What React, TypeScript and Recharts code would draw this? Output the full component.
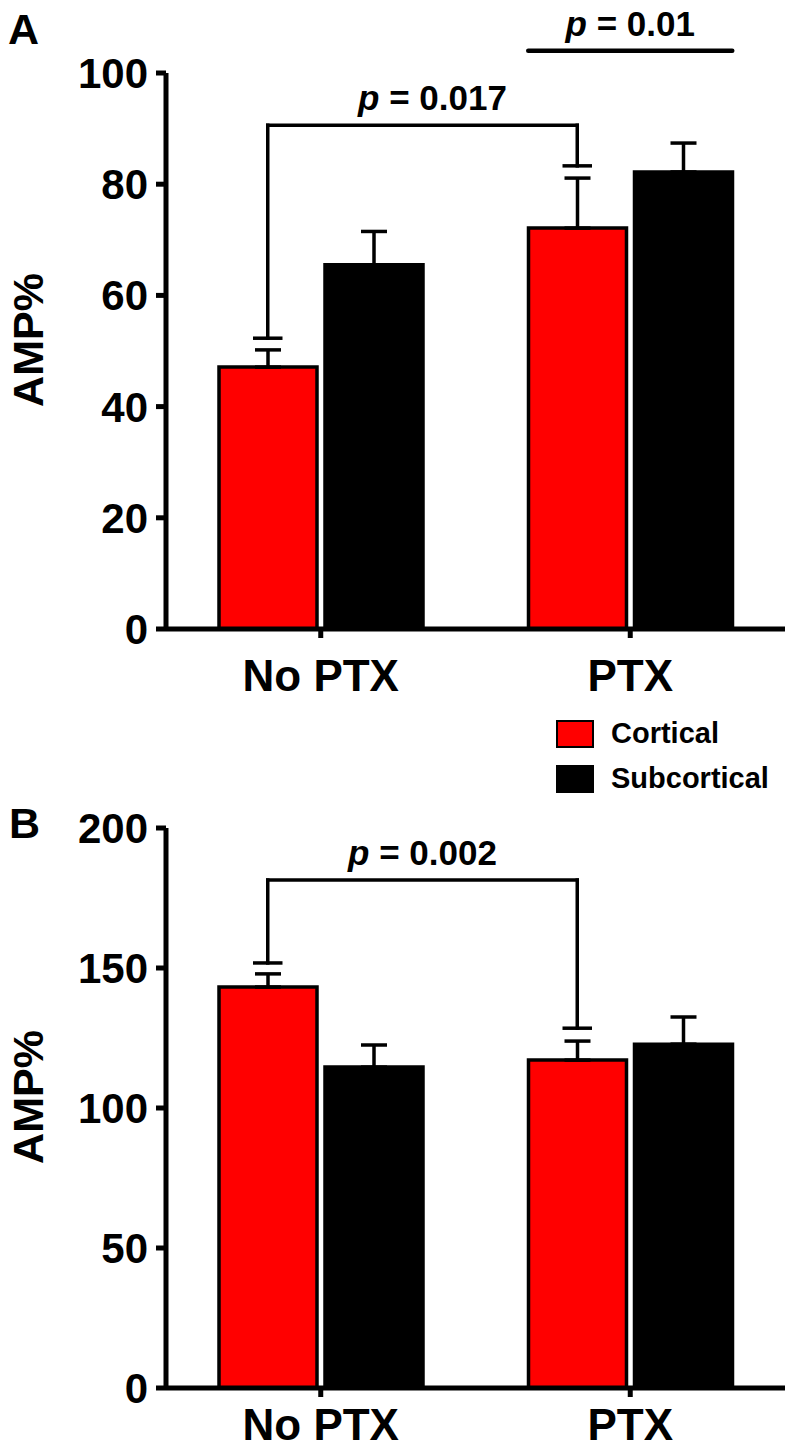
import React from "react";
import { Bar, BarChart, ErrorBar, Legend, ReferenceLine, XAxis, YAxis } from "recharts";

const categories = ["No PTX", "PTX"];

// panel A
const corticalA = [47.1, 72.1];
const corticalErrA = [3.1, 9.0];
const subcorticalA = [65.5, 82.2];
const subcorticalErrA = [6.0, 5.2];
const ticksA = [0, 20, 40, 60, 80, 100];

// panel B
const corticalB = [143.2, 117.1];
const corticalErrB = [4.7, 6.8];
const subcorticalB = [114.6, 122.8];
const subcorticalErrB = [7.9, 9.7];
const ticksB = [0, 50, 100, 150, 200];

// significance marks (y in data units)
const bracketA = { legFrom: 52.3, legTo: 83.3, top: 90.6, p: "0.017" };
const lineA = { y: 104, p: "0.01" };
const bracketB = { legFrom: 151.8, legTo: 128.5, top: 181.4, p: "0.002" };

const FONT = "'Liberation Sans', Arial, Helvetica, sans-serif";
const RED = "#ff0000";
const W = 787;
const LEFT = 166;
const RIGHT = 2;
const BAR_SIZE = 98;
const BAR_GAP = 8;
const BAND = (W - LEFT - RIGHT) / categories.length;
// offsets in band units, for the hidden numeric axis
const CORT_MID = 0.5 - (BAR_SIZE + BAR_GAP) / 2 / BAND;
const PAIR_HALF = (BAR_GAP / 2 + BAR_SIZE) / BAND;
const CAP = 13 / BAND;
const LW = 3.5;

const buildRows = (cort: number[], cortErr: number[], sub: number[], subErr: number[]) =>
  categories.map((name, i) => ({
    name,
    pos: i + 0.5,
    cortical: cort[i],
    subcortical: sub[i],
    corticalErr: [0, cortErr[i]],
    subcorticalErr: [0, subErr[i]],
  }));

const dataA = buildRows(corticalA, corticalErrA, subcorticalA, subcorticalErrA);
const dataB = buildRows(corticalB, corticalErrB, subcorticalB, subcorticalErrB);

function PLabel(props: any) {
  const vb = props.viewBox || {};
  const cx = (vb.x || 0) + (vb.width || 0) / 2 + (props.shift || 0);
  return (
    <text x={cx} y={(vb.y || 0) - 15} textAnchor="middle" fontFamily={FONT} fontWeight="bold" fontSize={35} fill="#000">
      <tspan fontStyle="italic">p</tspan>
      <tspan>{" = " + props.p}</tspan>
    </text>
  );
}

function YLabel(props: any) {
  const vb = props.viewBox || { y: 0, height: 0 };
  const cy = vb.y + vb.height / 2 - 11;
  return (
    <text transform={`translate(43, ${cy}) rotate(-90)`} textAnchor="middle" fontFamily={FONT} fontWeight="bold" fontSize={43} fill="#000">
      AMP%
    </text>
  );
}

function bracketLines(b: { legFrom: number; legTo: number; top: number; p: string }, key: string, shift: number) {
  const xl = CORT_MID;
  const xr = 1 + CORT_MID;
  const segs = [
    [{ x: xl - CAP, y: b.legFrom }, { x: xl + CAP, y: b.legFrom }],
    [{ x: xl, y: b.legFrom }, { x: xl, y: b.top }],
    [{ x: xl, y: b.top }, { x: xr, y: b.top }],
    [{ x: xr, y: b.top }, { x: xr, y: b.legTo }],
    [{ x: xr - CAP, y: b.legTo }, { x: xr + CAP, y: b.legTo }],
  ];
  return segs.map((s, i) => (
    <ReferenceLine
      key={key + i}
      xAxisId="pos"
      segment={s}
      stroke="#000"
      strokeWidth={LW}
      strokeLinecap="square"
      ifOverflow="visible"
      label={i === 2 ? (p: any) => <PLabel {...p} p={b.p} shift={shift} /> : undefined}
    />
  ));
}

function LegendBox() {
  const items = [
    { label: "Cortical", color: RED },
    { label: "Subcortical", color: "#000" },
  ];
  return (
    <div>
      {items.map((it) => (
        <div key={it.label} style={{ display: "flex", alignItems: "center", height: 45 }}>
          <span style={{ display: "inline-block", width: 34, height: 24, background: it.color, border: "2px solid #000" }} />
          <span style={{ marginLeft: 17, fontFamily: FONT, fontWeight: "bold", fontSize: 29, color: "#000" }}>{it.label}</span>
        </div>
      ))}
    </div>
  );
}

const axisStroke = { stroke: "#000", strokeWidth: 5 };

function Panel(props: {
  data: any[];
  height: number;
  top: number;
  bottom: number;
  max: number;
  ticks: number[];
  xHeight: number;
  tickMargin: number;
  children?: React.ReactNode;
  legend?: boolean;
}) {
  return (
    <BarChart
      width={W}
      height={props.height}
      data={props.data}
      margin={{ top: props.top, right: RIGHT, left: LEFT - 80, bottom: props.bottom }}
      barSize={BAR_SIZE}
      barGap={BAR_GAP}
    >
      <XAxis
        dataKey="name"
        height={props.xHeight}
        axisLine={axisStroke}
        tickLine={axisStroke}
        tickSize={9}
        tickMargin={props.tickMargin}
        tick={{ fill: "#000", fontSize: 44, fontWeight: "bold", fontFamily: FONT }}
      />
      <XAxis xAxisId="pos" dataKey="pos" type="number" domain={[0, categories.length]} allowDataOverflow hide />
      <YAxis
        width={80}
        domain={[0, props.max]}
        ticks={props.ticks}
        interval={0}
        axisLine={axisStroke}
        tickLine={axisStroke}
        tickSize={10}
        tickMargin={8}
        tick={{ fill: "#000", fontSize: 42, fontWeight: "bold", fontFamily: FONT }}
        label={(p: any) => <YLabel {...p} />}
      />
      <Bar dataKey="cortical" name="Cortical" fill={RED} stroke="#000" strokeWidth={LW} isAnimationActive={false}>
        <ErrorBar dataKey="corticalErr" direction="y" width={13} stroke="#000" strokeWidth={LW} />
      </Bar>
      <Bar dataKey="subcortical" name="Subcortical" fill="#000" stroke="#000" strokeWidth={LW} isAnimationActive={false}>
        <ErrorBar dataKey="subcorticalErr" direction="y" width={13} stroke="#000" strokeWidth={LW} />
      </Bar>
      {props.children}
      {props.legend && (
        <Legend
          layout="vertical"
          align="center"
          verticalAlign="middle"
          content={() => <LegendBox />}
          wrapperStyle={{ left: 556, top: 711, width: 231 }}
        />
      )}
    </BarChart>
  );
}

export default function App() {
  return (
    <div style={{ position: "absolute", left: 0, top: 0, width: W, height: 1452, background: "#fff" }}>
      <div style={{ position: "absolute", left: 0, top: 0 }}>
        <Panel data={dataA} height={800} top={73} bottom={101} xHeight={70} tickMargin={22} max={100} ticks={ticksA} legend>
          {bracketLines(bracketA, "a", 10)}
          <ReferenceLine
            xAxisId="pos"
            segment={[
              { x: 1 + 0.5 - PAIR_HALF, y: lineA.y },
              { x: 1 + 0.5 + PAIR_HALF, y: lineA.y },
            ]}
            stroke="#000"
            strokeWidth={LW + 1}
            strokeLinecap="round"
            ifOverflow="visible"
            label={(p: any) => <PLabel {...p} p={lineA.p} />}
          />
        </Panel>
      </div>
      <div style={{ position: "absolute", left: 0, top: 800 }}>
        <Panel data={dataB} height={652} top={28} bottom={0} xHeight={64} tickMargin={12} max={200} ticks={ticksB}>
          {bracketLines(bracketB, "b", 0)}
        </Panel>
      </div>
      <div style={{ position: "absolute", left: 8, top: 4, fontFamily: FONT, fontWeight: "bold", fontSize: 43, lineHeight: "50px" }}>A</div>
      <div style={{ position: "absolute", left: 9, top: 798, fontFamily: FONT, fontWeight: "bold", fontSize: 43, lineHeight: "50px" }}>B</div>
    </div>
  );
}
